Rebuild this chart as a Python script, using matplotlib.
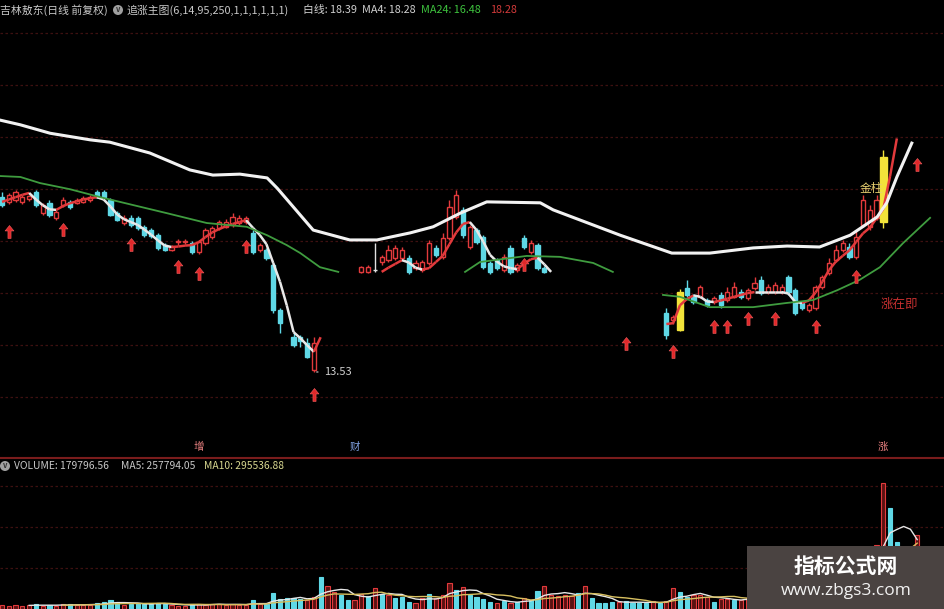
import numpy as np
import pandas as pd
import matplotlib
matplotlib.use("Agg")
import matplotlib.pyplot as plt
from matplotlib.path import Path
from matplotlib.patches import Rectangle, Circle
from matplotlib.collections import LineCollection
import matplotlib.transforms as mtransforms

plt.rcParams['font.family'] = ['Noto Sans CJK SC', 'DejaVu Sans']

# ---- candles (bar index, open, high, low, close), three visible stretches ----
seg1_idx = list(range(0, 42)) + [43, 44, 45, 46]
seg1_open = [17.25, 17.15, 17.19, 17.15, 17.21, 17.36, 16.91, 17.12, 16.81, 17.08, 17.15, 17.13, 17.15, 17.19,
             17.36, 17.36, 17.19, 16.91, 16.70, 16.81, 16.81, 16.62, 16.55, 16.44, 16.23, 16.13, 16.29, 16.30,
             16.27, 16.08, 16.27, 16.40, 16.59, 16.62, 16.66, 16.70, 16.72, 16.49, 16.13, 16.13, 15.81, 14.85,
             14.27, 14.27, 14.15, 13.57]
seg1_high = [17.36, 17.34, 17.40, 17.30, 17.30, 17.40, 17.12, 17.19, 16.98, 17.25, 17.19, 17.23, 17.27, 17.30,
             17.40, 17.40, 17.23, 16.96, 16.87, 16.87, 16.85, 16.66, 16.60, 16.49, 16.27, 16.23, 16.36, 16.36,
             16.32, 16.34, 16.60, 16.64, 16.76, 16.78, 16.91, 16.87, 16.85, 16.55, 16.27, 16.17, 15.85, 14.89,
             14.36, 14.32, 14.25, 14.27]
seg1_low = [17.04, 17.10, 17.15, 17.10, 17.17, 17.04, 16.87, 16.83, 16.76, 17.04, 17.00, 17.10, 17.12, 17.15,
            17.23, 17.23, 16.85, 16.74, 16.66, 16.62, 16.55, 16.40, 16.38, 16.13, 16.10, 16.10, 16.23, 16.25,
            16.04, 16.04, 16.23, 16.36, 16.55, 16.59, 16.62, 16.66, 16.68, 16.04, 16.08, 15.91, 14.79, 14.36,
            14.06, 14.06, 13.83, 13.53]
seg1_close = [17.08, 17.30, 17.36, 17.25, 17.27, 17.08, 17.08, 16.87, 16.94, 17.19, 17.04, 17.19, 17.23, 17.25,
              17.25, 17.25, 16.87, 16.76, 16.81, 16.66, 16.59, 16.44, 16.42, 16.17, 16.13, 16.19, 16.31, 16.31,
              16.08, 16.30, 16.55, 16.59, 16.72, 16.72, 16.83, 16.81, 16.81, 16.08, 16.23, 15.96, 14.85, 14.57,
              14.10, 14.19, 13.85, 14.15]

seg2_idx = list(range(53, 81))
seg2_open = [15.66, 15.66, 15.70, 15.87, 15.91, 15.96, 15.96, 15.96, 15.74, 15.70, 15.85, 16.17, 15.98, 16.38,
             16.83, 16.98, 16.19, 16.55, 16.40, 15.85, 15.91, 15.70, 16.17, 15.70, 16.38, 16.08, 16.23, 15.74]
seg2_high = [15.78, 15.80, 16.27, 16.02, 16.23, 16.23, 16.19, 16.02, 15.91, 15.91, 16.34, 16.23, 16.49, 17.19,
             17.40, 17.04, 16.66, 16.59, 16.44, 15.89, 15.96, 16.04, 16.23, 15.85, 16.44, 16.34, 16.27, 15.78]
seg2_low = [15.64, 15.64, 15.66, 15.81, 15.87, 15.91, 15.91, 15.62, 15.70, 15.66, 15.81, 15.98, 15.94, 16.34,
            16.78, 16.38, 16.15, 16.25, 15.72, 15.62, 15.70, 15.66, 15.62, 15.66, 16.15, 16.04, 15.70, 15.64]
seg2_close = [15.76, 15.76, 15.70, 15.98, 16.13, 16.17, 16.13, 15.66, 15.85, 15.87, 16.27, 16.02, 16.38, 17.04,
              17.30, 16.44, 16.62, 16.30, 15.76, 15.66, 15.74, 15.98, 15.66, 15.80, 16.19, 16.27, 15.74, 15.66]

seg3_idx = list(range(98, 131))
seg3_open = [14.79, 14.64, 14.42, 15.32, 15.13, 15.13, 15.06, 15.02, 15.17, 15.06, 15.13, 15.23, 15.10, 15.32,
             15.49, 15.23, 15.23, 15.23, 15.55, 15.27, 15.00, 14.85, 14.89, 15.34, 15.64, 15.91, 16.13, 16.19,
             15.98, 16.66, 16.62, 16.81, 16.72]
seg3_high = [14.89, 14.74, 15.30, 15.49, 15.19, 15.38, 15.10, 15.15, 15.23, 15.34, 15.45, 15.30, 15.32, 15.55,
             15.57, 15.40, 15.45, 15.40, 15.59, 15.32, 15.04, 15.00, 15.38, 15.59, 15.96, 16.23, 16.34, 16.27,
             16.55, 17.30, 17.08, 17.30, 18.25]
seg3_low = [14.23, 14.55, 14.40, 15.13, 14.98, 15.10, 14.91, 14.98, 14.89, 15.02, 15.10, 15.08, 15.06, 15.27,
            15.17, 15.19, 15.19, 15.19, 15.17, 14.74, 14.85, 14.81, 14.85, 15.30, 15.59, 15.87, 16.08, 15.94,
            15.94, 16.62, 16.55, 16.76, 16.60]
seg3_close = [14.32, 14.70, 15.23, 15.17, 15.02, 15.34, 14.96, 15.10, 14.96, 15.23, 15.34, 15.13, 15.27, 15.42,
              15.21, 15.34, 15.38, 15.34, 15.23, 14.79, 14.89, 14.96, 15.34, 15.55, 15.85, 16.13, 16.27, 15.98,
              16.40, 17.19, 16.98, 17.19, 18.10]

yellow_bars = [100, 130]

# ---- short MA line (red rising / white falling) ----
ma4_starts = [0, 56, 98]
ma4_a = [17.15, 17.20, 17.25, 17.30, 17.34, 17.20, 17.08, 16.99, 16.98, 17.06, 17.12, 17.16, 17.20, 17.23,
         17.25, 17.20, 17.05, 16.88, 16.78, 16.72, 16.66, 16.56, 16.45, 16.33, 16.22, 16.19, 16.20, 16.22,
         16.23, 16.29, 16.40, 16.50, 16.57, 16.63, 16.68, 16.72, 16.76, 16.60, 16.45, 16.25, 15.85, 15.45,
         14.95, 14.38, 14.25, 14.10, 13.96, 14.27]
ma4_b = [15.66, 15.75, 15.83, 15.91, 15.86, 15.75, 15.71, 15.74, 15.87, 16.00, 16.25, 16.50, 16.68, 16.72,
         16.55, 16.30, 16.02, 15.88, 15.78, 15.74, 15.72, 15.83, 15.93, 15.96, 15.82, 15.66]
ma4_c = [14.55, 14.57, 14.95, 15.08, 15.16, 15.13, 15.03, 15.02, 15.05, 15.09, 15.13, 15.17, 15.21, 15.23,
         15.23, 15.23, 15.23, 15.23, 15.20, 15.02, 15.00, 15.05, 15.22, 15.45, 15.70, 15.88, 16.00, 16.12,
         16.30, 16.48, 16.60, 16.80, 17.00, 17.70, 18.50]

# ---- white long line ----
white_x = [-0.3, 2.7, 7.1, 13, 15.9, 21.8, 27.7, 31.1, 35.1, 39.1, 40.6, 45.9, 51.3, 55.3, 60.2, 63.6, 67.6,
           71.5, 79.4, 81.3, 91.2, 98.8, 104.4, 110.8, 115.8, 120.6, 125.1, 129.1, 130.5, 132, 134.2]
white_y = [18.89, 18.79, 18.61, 18.47, 18.42, 18.19, 17.83, 17.72, 17.74, 17.66, 17.44, 16.55, 16.34, 16.34,
           16.49, 16.62, 16.91, 17.15, 17.13, 16.98, 16.44, 16.06, 16.06, 16.17, 16.21, 16.19, 16.44, 16.83,
           17.13, 17.68, 18.40]

# ---- MA24 (green), three pieces ----
nan = np.nan
green_x = [-0.3, 2.7, 5.6, 10, 14.5, 24.3, 30.2, 36.1, 39.1, 42, 44, 46.9, 49.6, nan,
           68.3, 70.5, 77.4, 82.3, 87.2, 90.1, nan,
           97.5, 100, 104.4, 110.8, 115.8, 119.6, 123.2, 126.5, 129.5, 132.9, 136.9]
green_y = [17.70, 17.68, 17.55, 17.42, 17.25, 16.91, 16.70, 16.62, 16.44, 16.23, 16.06, 15.76, 15.66, nan,
           15.66, 15.87, 16.00, 15.98, 15.85, 15.66, nan,
           15.17, 15.13, 14.91, 14.91, 15.00, 15.06, 15.27, 15.49, 15.76, 16.27, 16.81]

# ---- buy arrows (bar index, price at tip) ----
arrow_x = [1, 9, 19, 26, 29, 36, 46, 77, 92, 99, 105, 107, 110, 114, 120, 126, 135]
arrow_y = [16.66, 16.70, 16.38, 15.91, 15.76, 16.34, 13.19, 15.96, 14.27, 14.10, 14.64, 14.64, 14.81, 14.81,
           14.64, 15.70, 18.08]

signal_idx = [29, 52, 130]
signal_txt = ['增', '财', '涨']

# ---- volume (thousand shares), r = up bar, c = down bar ----
volume = [9.7, 7.3, 9.7, 7.3, 9.7, 12.2, 7.3, 9.7, 7.3, 12.2, 12.2, 9.7, 9.7, 9.7, 14.6, 17.0, 21.9, 14.6,
          9.7, 12.2, 14.6, 12.2, 12.2, 14.6, 12.2, 9.7, 7.3, 7.3, 12.2, 12.2, 9.7, 12.2, 12.2, 9.7, 12.2, 9.7,
          9.7, 21.9, 12.2, 12.2, 38.9, 24.3, 26.7, 26.7, 24.3, 21.9, 29.2, 77.8, 55.9, 41.3, 34.0, 21.9, 21.9,
          36.5, 31.6, 51.0, 36.5, 34.0, 26.7, 29.2, 17.0, 14.6, 26.7, 36.5, 26.7, 34.0, 63.2, 46.2, 53.5, 34.0,
          29.2, 24.3, 17.0, 14.6, 19.4, 14.6, 17.0, 26.7, 21.9, 43.7, 55.9, 34.0, 31.6, 34.0, 31.6, 38.9, 55.9,
          26.7, 14.6, 14.6, 17.0, 17.0, 19.4, 14.6, 14.6, 14.6, 19.4, 14.6, 19.4, 51.0, 41.3, 29.2, 34.0, 34.0,
          29.2, 17.0, 24.3, 24.3, 21.9, 21.9, 26.7, 31.6, 36.5, 26.7, 29.2, 26.7, 38.9, 46.2, 24.3, 26.7, 46.2,
          53.5, 63.2, 72.9, 60.8, 48.6, 77.8, 121.5, 97.2, 155.5, 306.2, 245.4, 162.8, 133.7, 121.5, 179.8]
vol_dir = ("rrrrrcrcrrcrrrccccrccccccrrrcrrrrrrrrcrc" "cccccrrcrrccrrcrcrcccrrcrrrcrccccrcrcrcc"
           "rrrrrcrccccrccccrcrrccrrrcrrcrrrrcccccrrrrrrcrrrrrrcccc")

header = [("吉林敖东(日线 前复权)", 0, '#c8c8c8'), ("追涨主图(6,14,95,250,1,1,1,1,1,1)", 126, '#c8c8c8'),
          ("白线: 18.39", 303, '#d0d0d0'), ("MA4: 18.28", 362, '#d0d0d0'),
          ("MA24: 16.48", 421, '#3ec43e'), ("18.28", 490, '#d23a3a')]
vol_header = [("VOLUME: 179796.56", 14, '#c8c8c8'), ("MA5: 257794.05", 121, '#c8c8c8'),
              ("MA10: 295536.88", 204, '#d8d890')]

RED = '#e23a3c'
CYAN = '#5fd8e6'
YELLOW = '#f2e33a'
GRID = '#3e1010'

W, H = 945, 609


def fy(py):
    return 1 - py / H


fig = plt.figure(figsize=(9.45, 6.09), dpi=100, facecolor='black')
ax = fig.add_axes([0, fy(458), 1, (458 - 20) / H])
vax = fig.add_axes([0, 0, 1, (609 - 470) / H])
for a in (ax, vax):
    a.set_facecolor('black')
    a.set_xlim(-0.3, 139.1)
    a.axis('off')
ax.set_ylim(11.70, 21.02)
vax.set_ylim(0, 338)

# dotted grid
for py in range(33, 400, 52):
    ax.axhline(13.53 + (372 - py) / 47, color=GRID, lw=0.9, ls=(0, (2, 2)), zorder=0)
for v in (100, 200, 300):
    vax.axhline(v, color=GRID, lw=0.9, ls=(0, (2, 2)), zorder=0)
fig.add_artist(plt.Line2D([0, 1], [fy(458), fy(458)], color='#7a1c1c', lw=1.5))

# candles
bars = pd.concat([
    pd.DataFrame(dict(idx=seg1_idx, o=seg1_open, h=seg1_high, l=seg1_low, c=seg1_close)),
    pd.DataFrame(dict(idx=seg2_idx, o=seg2_open, h=seg2_high, l=seg2_low, c=seg2_close)),
    pd.DataFrame(dict(idx=seg3_idx, o=seg3_open, h=seg3_high, l=seg3_low, c=seg3_close)),
], ignore_index=True)

for r in bars.itertuples():
    w = 0.62
    if r.idx in yellow_bars:
        col, face, w = YELLOW, YELLOW, 1.0
    elif r.c > r.o:
        col, face = RED, 'black'
    elif r.c < r.o:
        col, face = CYAN, CYAN
    else:
        col, face = '#e0e0e0', '#e0e0e0'
    ax.vlines(r.idx, r.l, r.h, color=col, lw=1, zorder=2)
    ax.add_patch(Rectangle((r.idx - w / 2, min(r.o, r.c)), w, max(abs(r.c - r.o), 0.01),
                           facecolor=face, edgecolor=col, lw=1, zorder=3))

# short MA, coloured by direction
segs, cols = [], []
for start, vals in zip(ma4_starts, [ma4_a, ma4_b, ma4_c]):
    for k in range(len(vals) - 1):
        segs.append([(start + k, vals[k]), (start + k + 1, vals[k + 1])])
        cols.append(RED if vals[k + 1] > vals[k] else '#e8e8e8')
ax.add_collection(LineCollection(segs, colors=cols, linewidths=1.8, zorder=4))

ax.plot(green_x, green_y, color='#3f9c3f', lw=1.3, zorder=4)
ax.plot(white_x, white_y, color='#f2f2f2', lw=2.2, zorder=5, solid_joinstyle='round')

# arrows
arrow = Path([(0, 0), (0.34, -0.42), (0.12, -0.42), (0.12, -1.0), (-0.12, -1.0), (-0.12, -0.42),
              (-0.34, -0.42), (0, 0)], closed=True)
ax.plot(arrow_x, arrow_y, ls='none', marker=arrow, ms=18.7, color='#e0282a', mec='#f06060', mew=0.4,
        zorder=6)

# labels in main panel
ax.annotate('13.53', xy=(46, 13.53), xytext=(7, 0), textcoords='offset points', color='#d0d0d0',
            fontsize=8, va='center', arrowprops=dict(arrowstyle='-', color='#d0d0d0', lw=0.8))
ax.text(128.2, 17.44, '金柱', color='#e8d070', fontsize=8.5, ha='center', va='center', zorder=7)
ax.text(132.3, 14.96, '涨在即', color='#c83030', fontsize=9, ha='center', va='center', zorder=7)
trans = mtransforms.blended_transform_factory(ax.transData, ax.transAxes)
sig_cols = ['#e88080', '#7fa0e0', '#e88080']
for i, t, c in zip(signal_idx, signal_txt, sig_cols):
    ax.text(i, 0.025, t, transform=trans, color=c, fontsize=7.5, ha='center', va='center')

# volume
vcols = [RED if d == 'r' else CYAN for d in vol_dir[:len(volume)]]
vfaces = ['#5a1212' if d == 'r' else CYAN for d in vol_dir[:len(volume)]]
vx = np.arange(len(volume))
vax.bar(vx, volume, width=0.62, color=vfaces, edgecolor=vcols, lw=0.8, zorder=2)
vs = pd.Series(volume)
vax.plot(vx, vs.rolling(5).mean(), color='#e6e6e6', lw=1.0, zorder=3)
vax.plot(vx, vs.rolling(10).mean(), color='#d8c060', lw=1.0, zorder=3)

# headers
for txt, px, c in header:
    fig.text(px / W, fy(10), txt, color=c, fontsize=7.8, va='center', ha='left')
for txt, px, c in vol_header:
    fig.text(px / W, fy(466), txt, color=c, fontsize=7.4, va='center', ha='left')
for px, py in [(118, 10), (5, 466)]:
    fig.add_artist(Circle((px / 100, (H - py) / 100), 0.05, transform=fig.dpi_scale_trans,
                          facecolor='#a0a0a0', edgecolor='none'))
    fig.text(px / W, fy(py), 'v', color='#303030', fontsize=5.5, ha='center', va='center',
             fontweight='bold')

# watermark box
fig.add_artist(Rectangle((747 / W, 0), (945 - 747) / W, 63 / H, transform=fig.transFigure,
                         facecolor='#4a4341', edgecolor='none', zorder=10))
fig.text(846 / W, fy(566), '指标公式网', color='white', fontsize=15, fontweight='bold', ha='center',
         va='center', zorder=11)
fig.text(846 / W, fy(591), 'www.zbgs3.com', color='#f2f2f2', fontsize=12.5, ha='center', va='center',
         family=['Open Sans', 'DejaVu Sans'], zorder=11)

fig.savefig('out.png', dpi=100, facecolor='black')
